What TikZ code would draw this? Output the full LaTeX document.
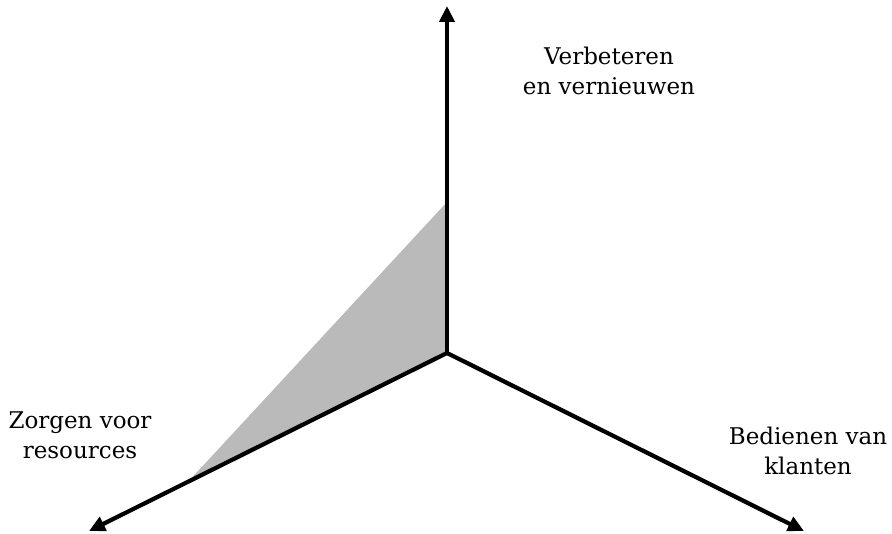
\documentclass[tikz,border=0pt]{standalone}
\usepackage{fontspec}
\setmainfont{DejaVu Serif}
\usetikzlibrary{arrows.meta}

\tikzset{
  axis/.style={line width=4.2pt,-{Triangle[length=16pt,width=15pt]}},
  lbl/.style={align=center,inner sep=0pt,font=\fontsize{23}{30}\selectfont}
}

\begin{document}
\begin{tikzpicture}[x=1pt,y=-1pt]
\useasboundingbox (0,0) rectangle (892,534);
\coordinate (O) at (447,353);
\coordinate (up) at (447,6);
\coordinate (left) at (89,531);
\coordinate (right) at (804,531);
\coordinate (shtop) at (447,202);
\coordinate (shleft) at (187,483);
% shaded part
\fill[black!27] (O) -- (shtop) -- (shleft) -- cycle;
% axes
\draw[axis] (O) -- (up);
\draw[axis] (O) -- (left);
\draw[axis] (O) -- (right);
\node[lbl] (verb) at (609,71) {Verbeteren\\en vernieuwen};
\node[lbl] (zorg) at (80,435) {Zorgen voor\\resources};
\node[lbl] (bedi) at (808,451) {Bedienen van\\klanten};
\end{tikzpicture}
\end{document}
